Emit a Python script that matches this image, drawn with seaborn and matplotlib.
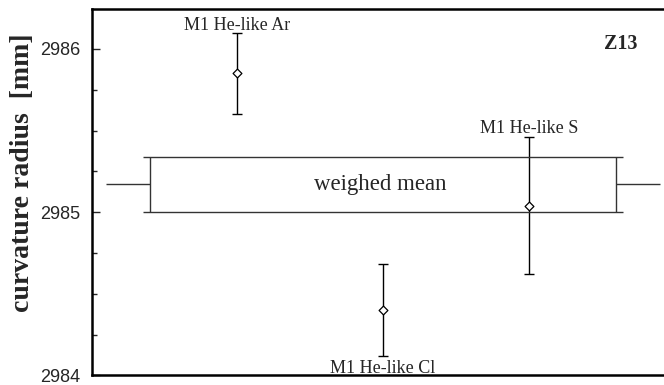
import numpy as np
import pandas as pd
import matplotlib
matplotlib.use("Agg")
import matplotlib.pyplot as plt
import seaborn as sns
from matplotlib.ticker import MultipleLocator

# data
labels = ["M1 He-like Ar", "M1 He-like Cl", "M1 He-like S"]
xpos = [1, 2, 3]
radius = [2985.85, 2984.40, 2985.04]
radius_err = [0.25, 0.28, 0.42]
mean_value = 2985.17
mean_err = 0.17
yticks = [2984, 2985, 2986]

sns.set_style("ticks")
plt.rcParams["font.family"] = ["Liberation Serif", "DejaVu Serif"]

fig = plt.figure(figsize=(6.64, 3.85), dpi=100)
ax = fig.add_axes([0.1381, 0.0247, 0.8777, 0.952])

df = pd.DataFrame({"x": xpos, "y": radius, "err": radius_err, "label": labels})

ax.errorbar(df["x"], df["y"], yerr=df["err"], fmt="none", ecolor="black",
            elinewidth=1.0, capsize=3.5, capthick=1.0, zorder=2)
sns.scatterplot(data=df, x="x", y="y", marker="D", s=20, facecolor="white",
                edgecolor="black", linewidth=0.9, ax=ax, zorder=3, legend=False)

# weighed mean box
lo, hi = mean_value - mean_err, mean_value + mean_err
box_l, box_r = 0.40, 3.60
ext = 0.05
lc = "#333333"
ax.hlines([lo, hi], box_l - ext, box_r + ext, color=lc, lw=1.0)
ax.vlines([box_l, box_r], lo, hi, color=lc, lw=1.0)
ax.hlines([mean_value, mean_value], [0.10, box_r], [box_l, 3.90], color=lc, lw=1.0)
ax.text(1.98, mean_value, "weighed mean", ha="center",
        va="center", fontsize=16.5)

# labels for points
ax.text(1, 2986.117, labels[0], ha="center", va="baseline", fontsize=13)
ax.text(2, 2984.014, labels[1], ha="center", va="baseline", fontsize=13)
ax.text(3, 2985.485, labels[2], ha="center", va="baseline", fontsize=13)
ax.text(3.63, 2986.03, "Z13", ha="center", va="center", fontsize=14.5,
        fontweight="bold")

ax.set_xlim(0, 4)
ax.set_ylim(2984, 2986.245)
ax.set_xticks([])
ax.set_xlabel("")
ax.yaxis.set_major_locator(MultipleLocator(1))
ax.yaxis.set_minor_locator(MultipleLocator(0.25))
ax.set_yticks(yticks)
ax.set_yticklabels([str(t) for t in yticks], family="Liberation Sans", fontsize=13)
ax.tick_params(axis="y", which="major", direction="in", length=6, width=1.0,
               pad=8, right=False)
ax.tick_params(axis="y", which="minor", direction="in", length=3.5, width=1.0,
               right=False)
ax.set_ylabel("curvature radius  [mm]", fontsize=20, fontweight="bold")
ax.yaxis.set_label_coords(-0.097, 0.5525)

for side in ["left", "top", "bottom"]:
    ax.spines[side].set_linewidth(1.8)
    ax.spines[side].set_color("black")
ax.spines["right"].set_visible(False)

fig.savefig("out.png", dpi=100)
